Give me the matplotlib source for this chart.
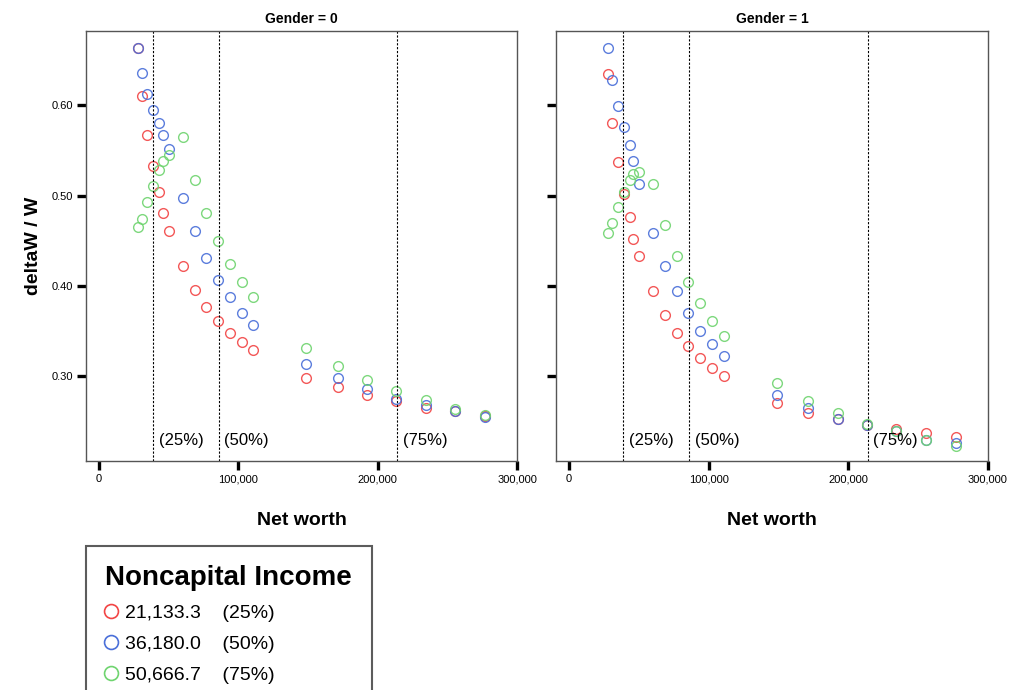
import numpy as np
import matplotlib
matplotlib.use('Agg')
import matplotlib.pyplot as plt
from matplotlib.lines import Line2D

plt.rcParams['font.family'] = ['Liberation Sans', 'DejaVu Sans']

# net worth grid (same for every series)
net_worth = [27800, 30600, 34800, 39100, 43400, 46100, 50400, 60000, 68600, 77000,
             85300, 93800, 102400, 110800, 148800, 171400, 192400, 213500, 234400,
             255400, 277000]

# Gender = 0
g0_low = [0.664, 0.610, 0.5675, 0.533, 0.504, 0.481, 0.461, 0.422, 0.3955, 0.3767,
          0.361, 0.348, 0.3375, 0.3287, 0.298, 0.288, 0.2792, 0.2722, 0.2649, 0.2616, 0.2559]
g0_mid = [0.664, 0.636, 0.6125, 0.595, 0.580, 0.5675, 0.552, 0.4973, 0.461, 0.431,
          0.4066, 0.3877, 0.370, 0.3567, 0.3135, 0.298, 0.2858, 0.2744, 0.2681, 0.2616, 0.2545]
g0_high = [0.465, 0.474, 0.493, 0.511, 0.528, 0.538, 0.5455, 0.565, 0.517, 0.481,
           0.450, 0.4244, 0.4044, 0.3877, 0.3312, 0.3113, 0.2955, 0.2836, 0.2733, 0.2638, 0.2570]

# Gender = 1
g1_low = [0.6347, 0.580, 0.537, 0.502, 0.476, 0.452, 0.433, 0.3944, 0.3675, 0.348,
          0.3335, 0.320, 0.309, 0.300, 0.2704, 0.2593, 0.2519, 0.2453, 0.2408, 0.2364, 0.232]
g1_mid = [0.664, 0.628, 0.599, 0.576, 0.556, 0.538, 0.513, 0.4586, 0.422, 0.3944,
          0.3697, 0.350, 0.3357, 0.3224, 0.279, 0.264, 0.2519, 0.2453, 0.239, 0.2295, 0.2255]
g1_high = [0.4586, 0.470, 0.487, 0.504, 0.517, 0.524, 0.526, 0.513, 0.467, 0.433,
           0.4044, 0.381, 0.361, 0.3445, 0.2925, 0.2725, 0.2593, 0.2464, 0.2385, 0.229, 0.2225]

quartiles = [39000, 86000, 214000]
quartile_labels = ['(25%)', '(50%)', '(75%)']
income_values = ['21,133.3', '36,180.0', '50,666.7']
income_pct = ['(25%)', '(50%)', '(75%)']
colors = ['#f24545', '#4a6fd9', '#6fd46f']

panels = [('Gender = 0', [g0_low, g0_mid, g0_high]),
          ('Gender = 1', [g1_low, g1_mid, g1_high])]

fig = plt.figure(figsize=(10.09, 6.90), dpi=100)
positions = [[86/1009, 1-461/690, 431/1009, 430/690],
             [556/1009, 1-461/690, 432/1009, 430/690]]

for i, (title, series) in enumerate(panels):
    ax = fig.add_axes(positions[i])
    for vals, c in zip(series, colors):
        ax.plot(net_worth, vals, 'o', mfc='none', mec=c, ms=7, mew=1.0, alpha=0.9)
    for q, lab in zip(quartiles, quartile_labels):
        ax.axvline(q, color='black', lw=0.8, ls=(0, (2, 1.5)))
        ax.text(q + 4000, 0.229, lab, fontsize=12, va='center', ha='left')
    ax.set_xlim(-9330, 300000)
    ax.set_ylim(0.2058, 0.6824)
    ax.set_xticks([0, 100000, 200000, 300000])
    ax.set_xticklabels(['0', '100,000', '200,000', '300,000'])
    ax.set_yticks([0.3, 0.4, 0.5, 0.6])
    if i == 0:
        ax.set_yticklabels(['0.30', '0.40', '0.50', '0.60'])
        ax.set_ylabel('deltaW / W', fontsize=14, fontweight='bold', labelpad=7)
    else:
        ax.set_yticklabels([])
    ax.tick_params(length=6.5, width=2.4, labelsize=8, pad=3, color='black')
    for s in ax.spines.values():
        s.set_color('#555555')
        s.set_linewidth(1.0)
    ax.set_title(title, fontsize=10, fontweight='bold', pad=6)
    ax.set_xlabel('Net worth', fontsize=14, fontweight='bold', labelpad=20)

handles = [Line2D([], [], ls='none', marker='o', mfc='none', mec=c, ms=10, mew=1.2)
           for c in colors]
labels = [v + '    ' + p for v, p in zip(income_values, income_pct)]
leg = fig.legend(handles, labels, loc='upper left', bbox_to_anchor=(86/1009, 1-546/690),
                 borderaxespad=0, title='Noncapital Income', fontsize=14, frameon=True,
                 fancybox=False, handlelength=0.6, handletextpad=0.4, labelspacing=0.68,
                 borderpad=1.0, alignment='left',
                 title_fontproperties={'weight': 'bold', 'size': 20})
leg.get_frame().set_edgecolor('#333333')
leg.get_frame().set_linewidth(1.5)

fig.savefig('out.png', dpi=100)
